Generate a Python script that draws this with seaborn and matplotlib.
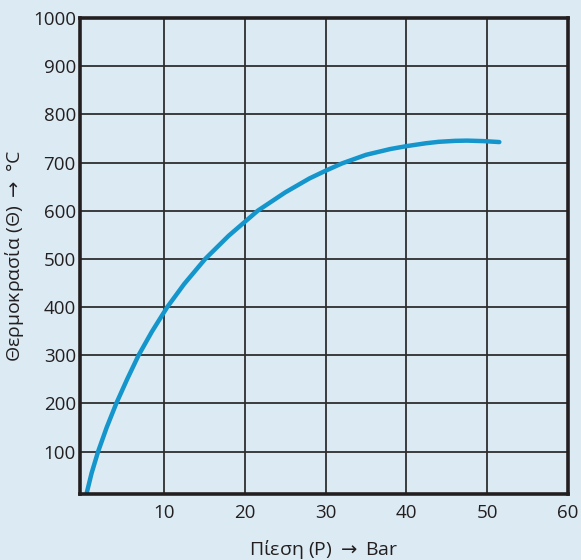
import matplotlib
matplotlib.use("Agg")
import matplotlib.pyplot as plt
import seaborn as sns
import pandas as pd

# Pressure (bar) and temperature (°C)
pressure = [0.4, 1.03, 1.84, 2.9, 4.09, 5.43, 6.85, 8.5, 10.4, 12.5, 15.1,
            18.0, 21.6, 25.0, 28.0, 30.0, 32.0, 35.0, 38.0, 40.0, 42.4,
            44.0, 46.0, 47.5, 49.5, 51.5]
temperature = [12, 55, 100, 150, 200, 250, 300, 349, 400, 448, 500, 548,
               600, 638, 667, 683, 698, 716, 728, 734, 740, 743, 745,
               745.5, 744.5, 742.5]
x_ticks = [10, 20, 30, 40, 50, 60]
y_ticks = [100, 200, 300, 400, 500, 600, 700, 800, 900, 1000]
x_label = "Πίεση (P) $\\rightarrow$ Bar"
y_label = "Θερμοκρασία (Θ) $\\rightarrow$ °C"

bg = "#dcebf3"
ink = "#231f20"
sns.set_theme(style="white", rc={"axes.facecolor": bg, "figure.facecolor": bg})
plt.rcParams["font.family"] = ["Open Sans", "DejaVu Sans"]

df = pd.DataFrame({"P": pressure, "T": temperature})

fig = plt.figure(figsize=(5.81, 5.60), dpi=100)
ax = fig.add_axes([80 / 581, 1 - 494 / 560, (568 - 80) / 581, (494 - 18) / 560])

sns.lineplot(data=df, x="P", y="T", sort=False, color="#1495cc",
             linewidth=3.2, ax=ax, zorder=3)

ax.set_xlim(-0.4, 60)
ax.set_ylim(12, 1000)
ax.set_xticks(x_ticks)
ax.set_yticks(y_ticks)
ax.set_xticklabels([str(v) for v in x_ticks], fontsize=13.5, color=ink)
ax.set_yticklabels([str(v) for v in y_ticks], fontsize=13.5, color=ink)
ax.tick_params(axis="both", length=0)
ax.tick_params(axis="x", pad=7)
ax.tick_params(axis="y", pad=3)

ax.grid(True, color="#2e2e2e", linewidth=1.3)
ax.set_axisbelow(True)
for s in ax.spines.values():
    s.set_visible(True)
    s.set_color(ink)
    s.set_linewidth(2.6)
    s.set_zorder(4)

ax.set_xlabel(x_label, fontsize=14, color=ink, labelpad=12)
ax.set_ylabel(y_label, fontsize=14, color=ink, labelpad=5)

fig.savefig("out.png", dpi=100, facecolor=bg)
